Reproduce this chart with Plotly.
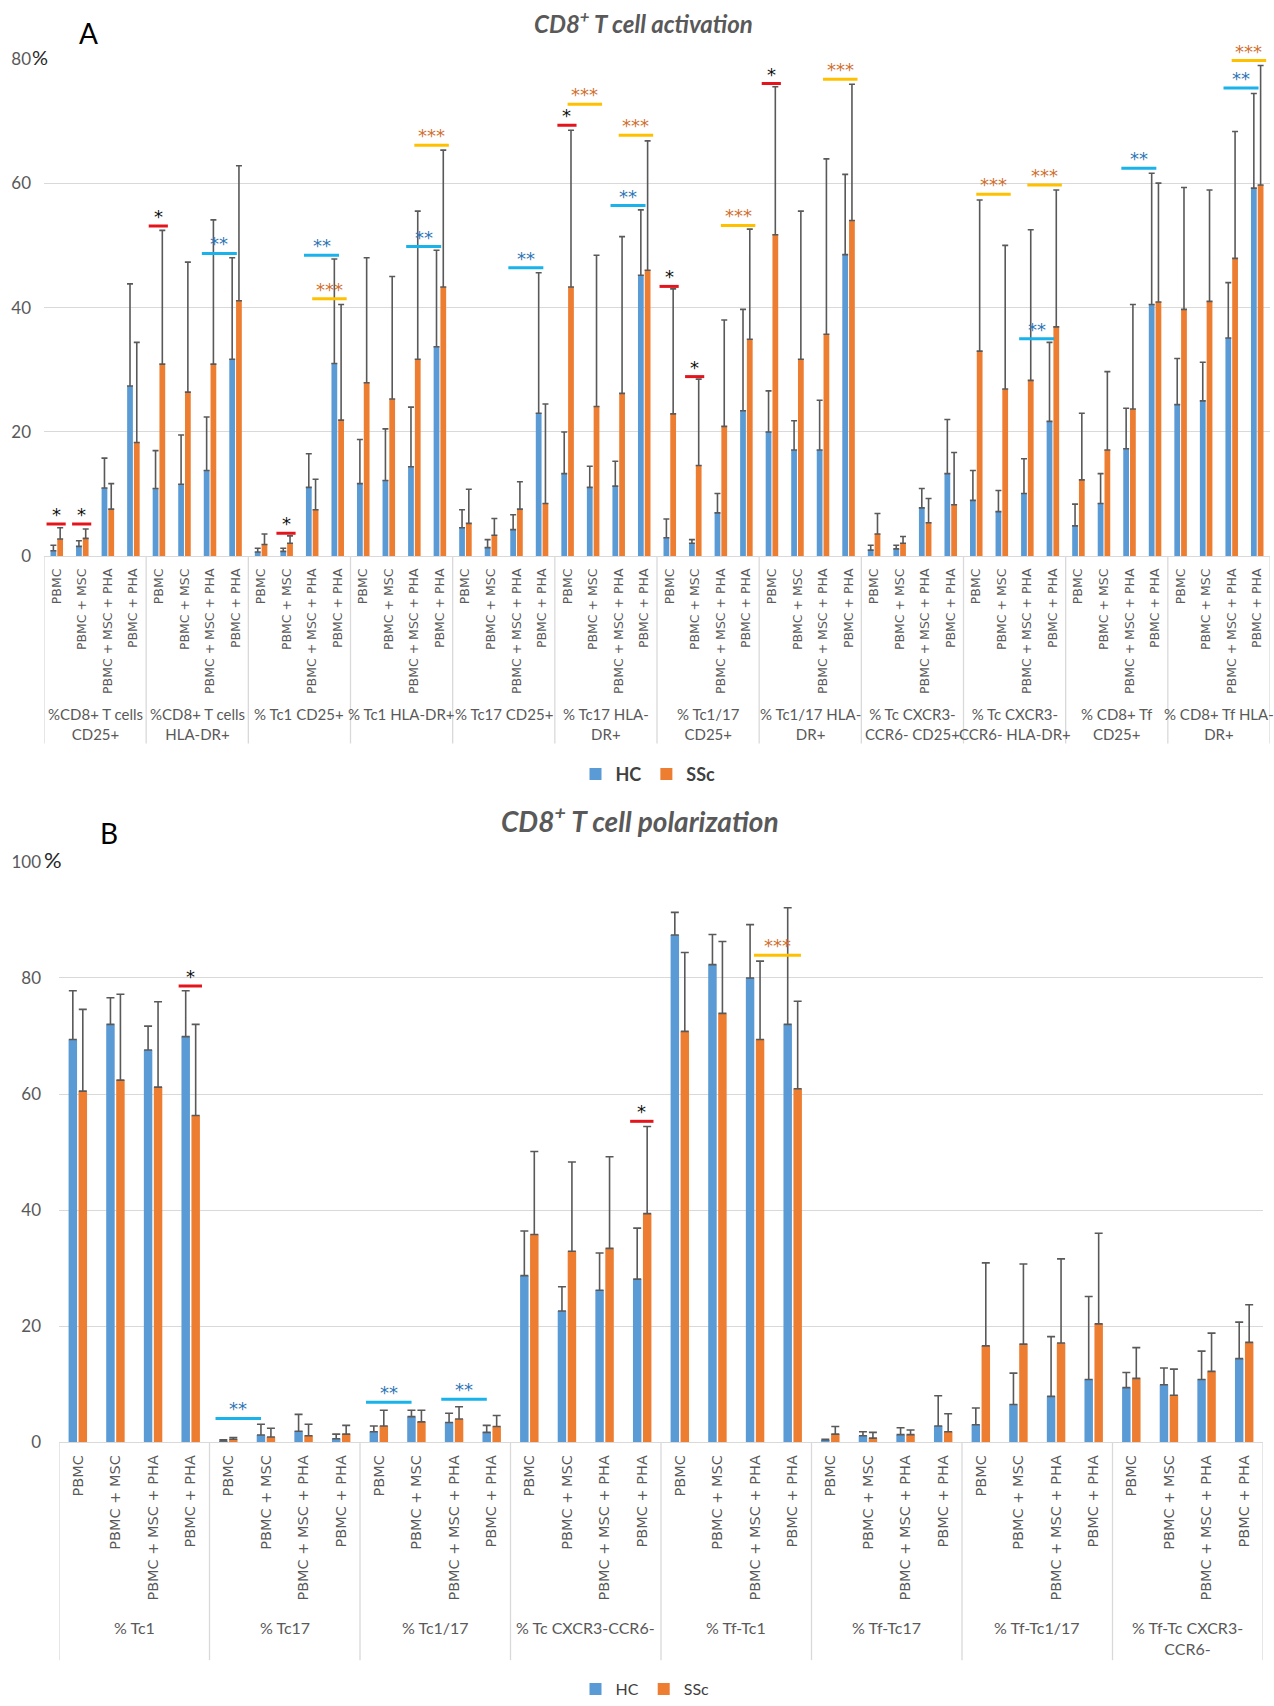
import plotly.graph_objects as go

# ---------------- data ----------------
subs = ["PBMC", "PBMC + MSC", "PBMC + MSC + PHA", "PBMC + PHA"]

groups_a = ["%CD8+ T cells<br>CD25+", "%CD8+ T cells<br>HLA-DR+", "% Tc1 CD25+",
            "% Tc1 HLA-DR+", "% Tc17 CD25+", "% Tc17 HLA-<br>DR+", "% Tc1/17<br>CD25+",
            "% Tc1/17 HLA-<br>DR+", "% Tc CXCR3-<br>CCR6- CD25+", "% Tc CXCR3-<br>CCR6- HLA-DR+",
            "% CD8+ Tf<br>CD25+", "% CD8+ Tf HLA-<br>DR+"]

hc_a = [0.9, 1.6, 11.0, 27.4,
        10.9, 11.6, 13.8, 31.7,
        0.7, 0.8, 11.1, 31.0,
        11.7, 12.2, 14.4, 33.7,
        4.6, 1.4, 4.3, 23.0,
        13.3, 11.1, 11.3, 45.2,
        3.0, 2.1, 7.0, 23.4,
        20.0, 17.1, 17.1, 48.5,
        1.0, 1.2, 7.8, 13.3,
        9.0, 7.2, 10.1, 21.7,
        4.9, 8.5, 17.3, 40.5,
        24.4, 25.0, 35.1, 59.2]
hc_a_sd = [0.9, 0.9, 4.8, 16.4,
           6.1, 7.9, 8.6, 16.3,
           0.6, 0.5, 5.4, 16.8,
           7.1, 8.3, 9.6, 15.5,
           2.9, 1.3, 2.4, 22.6,
           6.7, 3.4, 4.0, 10.5,
           3.0, 0.6, 3.1, 16.3,
           6.6, 4.7, 8.0, 12.9,
           0.8, 0.6, 3.1, 8.7,
           4.8, 3.4, 5.6, 12.7,
           3.5, 4.8, 6.5, 21.1,
           7.4, 6.2, 8.9, 15.2]
ssc_a = [2.8, 2.9, 7.6, 18.3,
         30.9, 26.4, 30.9, 41.1,
         1.9, 2.1, 7.5, 21.9,
         27.9, 25.3, 31.7, 43.3,
         5.3, 3.4, 7.6, 8.5,
         43.3, 24.1, 26.2, 46.0,
         22.9, 14.6, 20.9, 34.9,
         51.7, 31.7, 35.7, 54.0,
         3.6, 2.1, 5.4, 8.3,
         33.0, 26.9, 28.3, 36.9,
         12.3, 17.1, 23.7, 40.9,
         39.7, 41.0, 47.9, 59.7]
ssc_a_sd = [1.8, 1.5, 4.1, 16.1,
            21.5, 20.9, 23.2, 21.7,
            1.7, 1.2, 4.9, 18.6,
            20.1, 19.7, 23.8, 22.0,
            5.5, 2.7, 4.4, 16.0,
            25.2, 24.3, 25.2, 20.8,
            20.1, 13.9, 17.1, 17.7,
            23.8, 23.8, 28.2, 21.9,
            3.3, 1.1, 3.9, 8.4,
            24.3, 23.1, 24.2, 22.0,
            10.7, 12.6, 16.8, 19.1,
            19.6, 17.9, 20.4, 19.2]

groups_b = ["% Tc1", "% Tc17", "% Tc1/17", "% Tc CXCR3-CCR6-", "% Tf-Tc1",
            "% Tf-Tc17", "% Tf-Tc1/17", "% Tf-Tc CXCR3-<br>CCR6-"]

hc_b = [69.4, 72.0, 67.6, 69.9,
        0.2, 1.25, 1.9, 0.6,
        1.8, 4.4, 3.4, 1.7,
        28.7, 22.6, 26.2, 28.1,
        87.4, 82.3, 80.0, 72.0,
        0.4, 1.1, 1.3, 2.8,
        3.0, 6.5, 7.9, 10.8,
        9.4, 9.9, 10.8, 14.4]
hc_b_sd = [8.4, 4.6, 4.1, 7.9,
           0.2, 1.85, 2.9, 0.8,
           1.0, 1.1, 1.6, 1.2,
           7.7, 4.2, 6.4, 8.8,
           3.9, 5.2, 9.2, 20.1,
           0.1, 0.7, 1.2, 5.2,
           2.9, 5.4, 10.3, 14.3,
           2.6, 2.9, 4.9, 6.3]
ssc_b = [60.5, 62.4, 61.2, 56.3,
         0.5, 0.9, 1.1, 1.4,
         2.8, 3.5, 4.0, 2.7,
         35.8, 32.9, 33.4, 39.4,
         70.8, 73.9, 69.4, 60.9,
         1.4, 0.7, 1.3, 1.8,
         16.6, 16.9, 17.1, 20.4,
         11.0, 8.1, 12.2, 17.2]
ssc_b_sd = [14.1, 14.8, 14.7, 15.7,
            0.3, 1.5, 2.0, 1.5,
            2.7, 2.0, 2.1, 1.9,
            14.3, 15.4, 15.8, 15.0,
            13.6, 12.4, 13.5, 15.1,
            1.3, 1.0, 0.8, 3.1,
            14.3, 13.8, 14.5, 15.6,
            5.3, 4.5, 6.6, 6.5]

# significance marks: (group, sub_from, sub_to, level, stars)
sig_a = [(0, 0, 0, 5.2, "*"), (0, 1, 1, 5.2, "*"),
         (1, 0, 0, 53.1, "*"), (1, 2, 3, 48.7, "**"),
         (2, 1, 1, 3.7, "*"), (2, 2, 3, 48.4, "**"), (2, 2, 3, 41.4, "***"),
         (3, 2, 3, 49.8, "**"), (3, 2, 3, 66.1, "***"),
         (4, 2, 3, 46.4, "**"),
         (5, 0, 0, 69.3, "*"), (5, 0, 1, 72.7, "***"), (5, 2, 3, 56.4, "**"), (5, 2, 3, 67.7, "***"),
         (6, 0, 0, 43.4, "*"), (6, 1, 1, 28.9, "*"), (6, 2, 3, 53.2, "***"),
         (7, 0, 0, 76.0, "*"), (7, 2, 3, 76.7, "***"),
         (9, 0, 1, 58.2, "***"), (9, 2, 3, 35.0, "**"), (9, 2, 3, 59.7, "***"),
         (10, 2, 3, 62.4, "**"),
         (11, 2, 3, 75.3, "**"), (11, 2, 3, 79.7, "***")]
sig_b = [(0, 3, 3, 78.6, "*"),
         (1, 0, 1, 4.1, "**"),
         (2, 0, 1, 6.9, "**"), (2, 2, 3, 7.4, "**"),
         (3, 3, 3, 55.3, "*"),
         (4, 2, 3, 83.9, "***")]

# ---------------- styling ----------------
W, H = 1274, 1706
BLUE, ORANGE = "#5B9BD5", "#ED7D31"
GRID = "#D9D9D9"
TXT = "#595959"
LINE_COL = {"*": "#E3141C", "**": "#19B2EA", "***": "#FFC000"}
STAR_COL = {"*": "#111111", "**": "#2E75B6", "***": "#D0702F"}
OFF_A = {"*": (-0.40, 0.35), "**": (-0.32, 0.05), "***": (0.0, 0.35)}
OFF_B = {"*": (-0.32, 0.30), "**": (-0.34, -0.13), "***": (-0.03, 0.22)}


def py(p):
    return 1 - p / H


fig = go.Figure()
n_sub = len(subs)
xa = list(range(len(groups_a) * n_sub))
xb = list(range(len(groups_b) * n_sub))


def err(sd, w):
    return dict(type="data", array=sd, symmetric=False, arrayminus=[0] * len(sd),
                color="#595959", thickness=1.6, width=w)


fig.add_trace(go.Bar(x=xa, y=hc_a, name="HC", marker=dict(color=BLUE, line=dict(width=0)),
                     error_y=err(hc_a_sd, 3), xaxis="x", yaxis="y", legend="legend"))
fig.add_trace(go.Bar(x=xa, y=ssc_a, name="SSc", marker=dict(color=ORANGE, line=dict(width=0)),
                     error_y=err(ssc_a_sd, 3), xaxis="x", yaxis="y", legend="legend"))
fig.add_trace(go.Bar(x=xb, y=hc_b, name="HC", marker=dict(color=BLUE, line=dict(width=0)),
                     error_y=err(hc_b_sd, 4), xaxis="x2", yaxis="y2", legend="legend2"))
fig.add_trace(go.Bar(x=xb, y=ssc_b, name="SSc", marker=dict(color=ORANGE, line=dict(width=0)),
                     error_y=err(ssc_b_sd, 4), xaxis="x2", yaxis="y2", legend="legend2"))

shapes = []
annotations = []


def panel_decor(groups, xref, yref, axis_bottom_px, div_bottom_px, label_top_px, sigs, offs, lab_font):
    for g in range(len(groups) + 1):
        shapes.append(dict(type="line", xref=xref, yref="paper", x0=g * n_sub - 0.5, x1=g * n_sub - 0.5,
                           y0=py(axis_bottom_px), y1=py(div_bottom_px),
                           line=dict(color=GRID, width=1.3), layer="below"))
    for g, name in enumerate(groups):
        annotations.append(dict(x=g * n_sub + (n_sub - 1) / 2, xref=xref, y=py(label_top_px), yref="paper",
                                yanchor="top", text=name, showarrow=False, align="center",
                                font=lab_font))
    for g, s0, s1, lvl, stars in sigs:
        o0, o1 = offs[stars]
        xa0 = g * n_sub + s0 + o0
        xa1 = g * n_sub + s1 + o1
        shapes.append(dict(type="line", xref=xref, yref=yref, x0=xa0, x1=xa1, y0=lvl, y1=lvl,
                           line=dict(color=LINE_COL[stars], width=3)))
        annotations.append(dict(x=(xa0 + xa1) / 2, xref=xref, y=lvl, yref=yref, yanchor="bottom",
                                yshift=-3, text=stars, showarrow=False,
                                font=dict(family="DejaVu Sans", size=18, color=STAR_COL[stars])))


panel_decor(groups_a, "x", "y", 559, 747, 706, sig_a, OFF_A,
            dict(family="Lato", size=15, color=TXT))
panel_decor(groups_b, "x2", "y2", 1449, 1668, 1624, sig_b, OFF_B,
            dict(family="Lato", size=16, color=TXT))

# titles, panel letters, % signs
annotations += [
    dict(text="CD8<sup>+</sup> T cell activation", x=643 / W, y=py(22), xref="paper", yref="paper",
         showarrow=False, xanchor="center", yanchor="middle",
         font=dict(family="Lato", size=24, color=TXT, weight="bold", style="italic")),
    dict(text="CD8<sup>+</sup> T cell polarization", x=640 / W, y=py(823), xref="paper", yref="paper",
         showarrow=False, xanchor="center", yanchor="middle",
         font=dict(family="Lato", size=28, color=TXT, weight="bold", style="italic")),
    dict(text="A", x=88 / W, y=py(33), xref="paper", yref="paper", showarrow=False,
         xanchor="center", yanchor="middle", font=dict(family="Lato", size=28, color="#000000")),
    dict(text="B", x=109 / W, y=py(837), xref="paper", yref="paper", showarrow=False,
         xanchor="center", yanchor="middle", font=dict(family="Lato", size=28, color="#000000")),
    dict(text="%", x=39.5 / W, y=py(57), xref="paper", yref="paper", showarrow=False,
         xanchor="center", yanchor="middle", font=dict(family="Lato", size=20, color="#262626")),
    dict(text="%", x=52.5 / W, y=py(864), xref="paper", yref="paper", showarrow=False,
         xanchor="center", yanchor="middle", font=dict(family="Lato", size=22, color="#262626")),
]

xcommon = dict(showgrid=False, zeroline=False, showline=True, linecolor=GRID, linewidth=1.3,
               ticks="", tickangle=-90, automargin=False)
ycommon = dict(showgrid=True, gridcolor=GRID, gridwidth=1.3, zeroline=False, showline=False,
               ticks="", automargin=False, tickfont=dict(family="Lato", size=17, color=TXT))

fig.update_layout(
    width=W, height=H, autosize=False,
    margin=dict(l=0, r=0, t=0, b=0),
    paper_bgcolor="white", plot_bgcolor="white",
    barmode="group", bargap=0.47, bargroupgap=0.15,
    xaxis=dict(domain=[44 / W, 1270 / W], range=[-0.5, len(xa) - 0.5], anchor="y",
               tickvals=xa, ticktext=subs * len(groups_a), ticklabelstandoff=6,
               tickfont=dict(family="DejaVu Sans", size=12.5, color=TXT), **xcommon),
    yaxis=dict(domain=[py(559), py(59)], range=[0, 80], tickvals=[0, 20, 40, 60, 80], anchor="x",
               ticklabelstandoff=12, **ycommon),
    xaxis2=dict(domain=[59 / W, 1263 / W], range=[-0.5, len(xb) - 0.5], anchor="y2",
                tickvals=xb, ticktext=subs * len(groups_b), ticklabelstandoff=6,
                tickfont=dict(family="DejaVu Sans", size=14.5, color=TXT), **xcommon),
    yaxis2=dict(domain=[py(1449), py(866)], range=[0, 100], tickvals=[0, 20, 40, 60, 80, 100],
                anchor="x2", ticklabelstandoff=17, **ycommon),
    legend=dict(orientation="h", x=648 / W, xanchor="center", y=py(778), yanchor="middle",
                font=dict(family="Lato", size=18, color="#404040", weight="bold"),
                bgcolor="rgba(0,0,0,0)", itemwidth=30),
    legend2=dict(orientation="h", x=645 / W, xanchor="center", y=py(1697), yanchor="middle",
                 font=dict(family="Lato", size=16, color="#404040"), bgcolor="rgba(0,0,0,0)",
                 itemwidth=30),
    shapes=shapes,
    annotations=annotations,
    showlegend=True,
)

fig.write_html("out.html", config={"displayModeBar": False},
               post_script="document.body.style.margin='0px';document.body.style.overflow='hidden';")
